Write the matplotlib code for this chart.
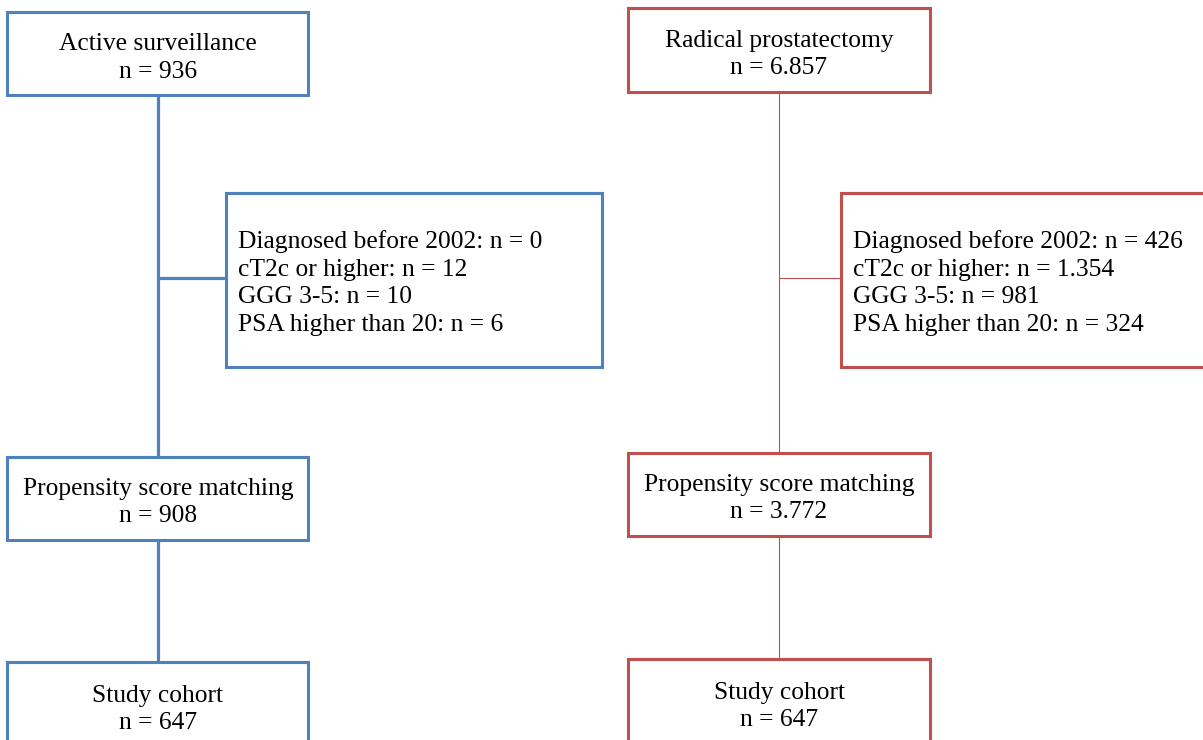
import matplotlib.pyplot as plt

# arms of the flowchart
arms = ['Active surveillance', 'Radical prostatectomy']
start_n = ['936', '6.857']
matched_n = ['908', '3.772']
cohort_n = ['647', '647']
excl_labels = ['Diagnosed before 2002', 'cT2c or higher', 'GGG 3-5', 'PSA higher than 20']
excl_n = [['0', '12', '10', '6'], ['426', '1.354', '981', '324']]
colors = ['#4F81BD', '#C0504D']

# layout in pixels (x0, x1 of main boxes, x of trunk, exclusion box x0, x1, line widths)
layout = [
    dict(bx=(7, 308), cx=158, ex=(226, 602), tops=(12, 95, 457, 540, 662), trunk_lw=2.3, box_lw=2.2, ey=(193, 367)),
    dict(bx=(628, 930), cx=779, ex=(841, 1220), tops=(8, 92, 453, 536, 659), trunk_lw=0.8, box_lw=2.2, ey=(193, 367)),
]

plt.rcParams['font.family'] = ['Liberation Serif', 'DejaVu Serif']
fig = plt.figure(figsize=(12.03, 7.40), dpi=100)
ax = fig.add_axes([0, 0, 1, 1])
ax.set_xlim(0, 1203)
ax.set_ylim(740, 0)
ax.axis('off')

fs = 18.4

def box(x0, x1, y0, y1, c, lw):
    ax.plot([x0, x1, x1, x0, x0, x1], [y0, y0, y1, y1, y0, y0], color=c, lw=lw,
            solid_joinstyle='miter', solid_capstyle='butt', zorder=3)

for i, L in enumerate(layout):
    c = colors[i]
    x0, x1 = L['bx']
    t1, b1, t2, b2, t3 = L['tops']
    cx = L['cx']
    # main boxes
    box(x0, x1, t1, b1, c, L['box_lw'])
    box(x0, x1, t2, b2, c, L['box_lw'])
    box(x0, x1, t3, t3 + 110, c, L['box_lw'])
    # connecting lines
    ax.plot([cx, cx], [b1, t2], color=c, lw=L['trunk_lw'], solid_capstyle='butt')
    ax.plot([cx, cx], [b2, t3], color=c, lw=L['trunk_lw'], solid_capstyle='butt')
    ey0, ey1 = L['ey']
    ym = (ey0 + ey1) / 2 - 2
    ax.plot([cx, L['ex'][0]], [ym, ym], color=c, lw=L['trunk_lw'], solid_capstyle='butt')
    box(L['ex'][0], L['ex'][1], ey0, ey1, c, L['box_lw'])

    # texts
    ax.text(cx, (t1 + b1) / 2 - 9, arms[i], ha='center', va='center', fontsize=fs)
    ax.text(cx, (t1 + b1) / 2 + 18, 'n = ' + start_n[i], ha='center', va='center', fontsize=fs)
    ax.text(cx, (t2 + b2) / 2 - 9, 'Propensity score matching', ha='center', va='center', fontsize=fs)
    ax.text(cx, (t2 + b2) / 2 + 17, 'n = ' + matched_n[i], ha='center', va='center', fontsize=fs)
    ax.text(cx, t3 + 34, 'Study cohort', ha='center', va='center', fontsize=fs)
    ax.text(cx, t3 + 61, 'n = ' + cohort_n[i], ha='center', va='center', fontsize=fs)
    for k, (lab, n) in enumerate(zip(excl_labels, excl_n[i])):
        ax.text(L['ex'][0] + 12, 242 + 27.7 * k, f'{lab}: n = {n}', ha='left', va='center', fontsize=fs)

fig.savefig('out.png', dpi=100, facecolor='white')
